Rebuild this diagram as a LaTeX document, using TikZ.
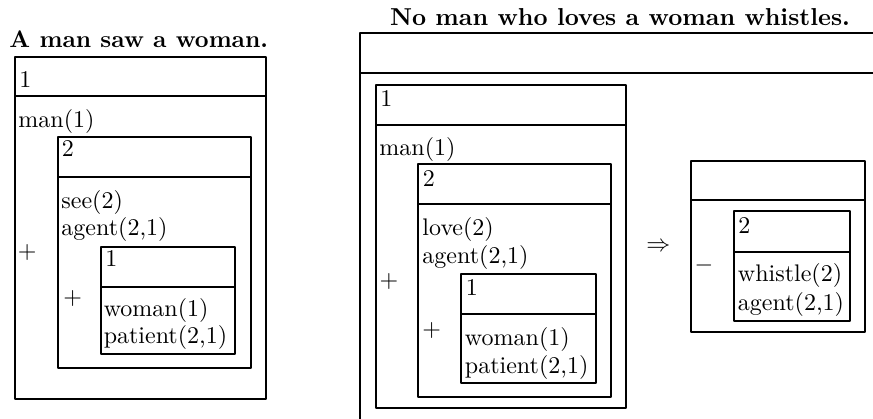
\documentclass[tikz,border=0pt]{standalone}
\begin{document}
\begin{tikzpicture}[x=1pt,y=-1pt,
  lbl/.style={anchor=base west, inner sep=0pt, scale=2.4},
  ttl/.style={inner sep=0pt, scale=2.4, font=\bfseries},
  sym/.style={anchor=center, inner sep=0pt, scale=2.4},
  boxline/.style={line width=2.1pt, line join=round}]
\useasboundingbox (0,0) rectangle (873,418);
\clip (0,0) rectangle (873,418);
% ---------------- left ----------------
\node[ttl, anchor=base west] (t1) at (9,47) {A man saw a woman.};
\draw[boxline] (14.7,56.7) rectangle (265.7,399);
\draw[boxline] (14.7,96) -- (265.7,96);
\node[lbl] (la1) at (19,87.3) {1};
\node[lbl] (lman) at (18,127) {man(1)};
\draw[boxline] (58,137.3) rectangle (250.7,368.3);
\draw[boxline] (58,176.7) -- (250.7,176.7);
\node[lbl] (lb2) at (61.5,156.7) {2};
\node[lbl] (lsee) at (61,208.3) {see(2)};
\node[lbl] (lag) at (61,235) {agent(2,1)};
\node[sym] (lp1) at (27.3,252.3) {$+$};
\draw[boxline] (101,246.7) rectangle (235,354.3);
\draw[boxline] (101,286.7) -- (235,286.7);
\node[lbl] (lc1) at (105,266.7) {1};
\node[sym] (lp2) at (72.7,298.3) {$+$};
\node[lbl] (lwo) at (103.3,316.7) {woman(1)};
\node[lbl] (lpa) at (103.3,343.3) {patient(2,1)};
% ---------------- right ----------------
\node[ttl, anchor=base, scale=1.02] (t2) at (620,25) {No man who loves a woman whistles.};
\draw[boxline] (880,33.3) -- (360,33.3) -- (360,430);
\draw[boxline] (360,72.7) -- (880,72.7);
\draw[boxline] (375.7,85) rectangle (626,408.3);
\draw[boxline] (375.7,125) -- (626,125);
\node[lbl] (ra1) at (380,106.7) {1};
\node[lbl] (rman) at (379,155) {man(1)};
\draw[boxline] (418.3,164.3) rectangle (610.7,396.7);
\draw[boxline] (418.3,204.3) -- (610.7,204.3);
\node[lbl] (rb2) at (422.5,186.7) {2};
\node[lbl] (rlove) at (422,235) {love(2)};
\node[lbl] (rag) at (422,263.3) {agent(2,1)};
\node[sym] (rp1) at (389,281.7) {$+$};
\draw[boxline] (461,274) rectangle (595.7,383.3);
\draw[boxline] (461,314) -- (595.7,314);
\node[lbl] (rc1) at (465.5,295.7) {1};
\node[sym] (rp2) at (431.7,330) {$+$};
\node[lbl] (rwo) at (464.5,345) {woman(1)};
\node[lbl] (rpa) at (464.5,373.3) {patient(2,1)};
\node[sym] (imp) at (658.3,246.7) {$\Rightarrow$};
\draw[boxline] (690.7,161) rectangle (865,332.3);
\draw[boxline] (690.7,200) -- (865,200);
\node[sym] (neg) at (704,265) {$-$};
\draw[boxline] (734,211) rectangle (850,320.7);
\draw[boxline] (734,251.7) -- (850,251.7);
\node[lbl] (rd2) at (738,233.3) {2};
\node[lbl] (rwh) at (737.5,281.7) {whistle(2)};
\node[lbl] (rag2) at (737.5,310) {agent(2,1)};
\end{tikzpicture}
\end{document}
